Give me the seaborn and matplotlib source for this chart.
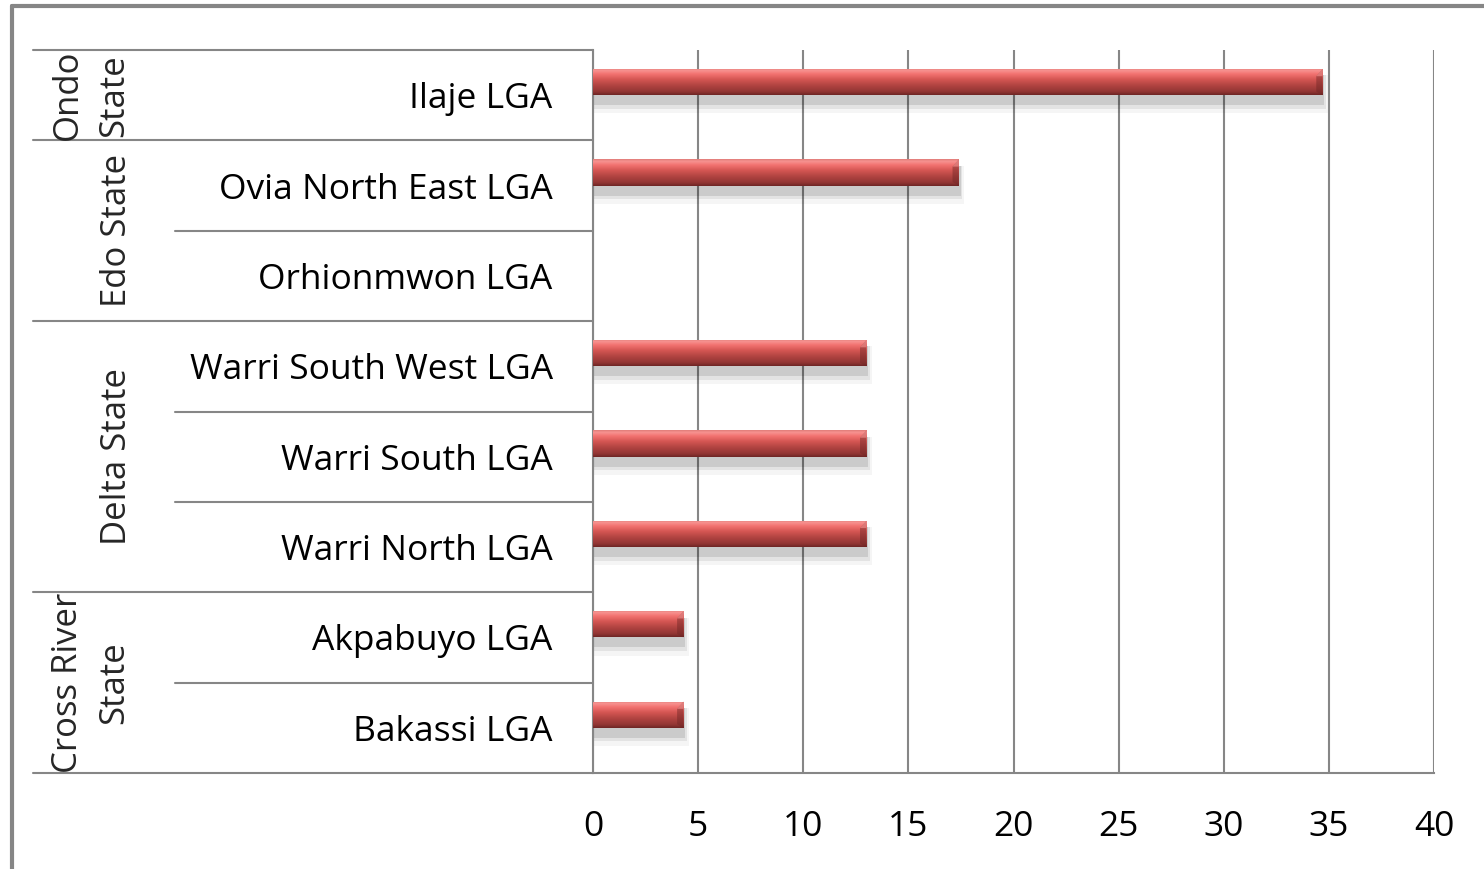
import matplotlib
matplotlib.use('Agg')
import matplotlib.pyplot as plt
import numpy as np
import pandas as pd
import seaborn as sns
from matplotlib.colors import LinearSegmentedColormap
from matplotlib.lines import Line2D
from matplotlib.patches import Rectangle, Polygon
import matplotlib.transforms as mtransforms

# 数据
lgas = ['Ilaje LGA', 'Ovia North East LGA', 'Orhionmwon LGA', 'Warri South West LGA',
        'Warri South LGA', 'Warri North LGA', 'Akpabuyo LGA', 'Bakassi LGA']
values = [34.7, 17.4, 0, 13.0, 13.0, 13.0, 4.3, 4.3]
states = ['Ondo\nState', 'Edo State', 'Delta State', 'Cross River\nState']
state_sizes = [1, 2, 3, 2]
xticks = [0, 5, 10, 15, 20, 25, 30, 35, 40]

sns.set_style("white")
plt.rcParams['font.family'] = ['Open Sans', 'DejaVu Sans']

W, H = 1484, 869
fig = plt.figure(figsize=(W / 100, H / 100), dpi=100)
ax = fig.add_axes([593 / W, 1 - 773 / H, (1434 - 593) / W, (773 - 50) / H])

df = pd.DataFrame({'lga': lgas, 'value': values})
sns.barplot(data=df, x='value', y='lga', orient='h', color='#C0504D',
            width=0.29, ax=ax, zorder=3, linewidth=0)

grey = '#868686'
# 渐变效果
cmap = LinearSegmentedColormap.from_list('bar', [
    (0.0, '#E07C79'), (0.08, '#F79391'), (0.22, '#F27270'), (0.42, '#D45653'),
    (0.65, '#B04341'), (0.88, '#923634'), (1.0, '#6E2625')])
grad = np.linspace(0, 1, 100).reshape(-1, 1)
shift = -0.145
bev = 0.3
for p in ax.patches:
    p.set_y(p.get_y() + shift)
    p.set_linewidth(0)
    x0, y0, w, h = p.get_x(), p.get_y(), p.get_width(), p.get_height()
    if w <= 0:
        p.set_visible(False)
        continue
    # 阴影
    for k, a in zip([0.04, 0.08, 0.13], [0.10, 0.07, 0.04]):
        ax.add_patch(Rectangle((x0, y0 + 0.07), w + k * 2, h + k,
                               facecolor='black', alpha=a, edgecolor='none', zorder=2))
    im = ax.imshow(grad, cmap=cmap, extent=(x0, x0 + w, y0 + h, y0),
                   aspect='auto', zorder=4, interpolation='bilinear')
    im.set_clip_path(p)
    # 末端斜面
    ax.add_patch(Polygon([(x0 + w - bev, y0 + 0.08), (x0 + w, y0), (x0 + w, y0 + h),
                          (x0 + w - bev, y0 + h - 0.04)],
                         facecolor='#6E2625', alpha=0.45, edgecolor='none', zorder=5))
    ax.add_patch(Polygon([(x0 + w - bev, y0 + 0.08), (x0 + w, y0), (x0 + w, y0 + 0.08)],
                         facecolor='#F79391', alpha=0.6, edgecolor='none', zorder=5))

ax.set_xlim(0, 40)
ax.set_ylim(len(lgas) - 0.5, -0.5)
ax.set_xticks(xticks)
ax.set_xticklabels([str(t) for t in xticks])
ax.set_xlabel('')
ax.set_ylabel('')
ax.xaxis.grid(True, color=grey, linewidth=1.5)
ax.set_axisbelow(True)
for s in ['top', 'right']:
    ax.spines[s].set_visible(False)
for s in ['left', 'bottom']:
    ax.spines[s].set_color(grey)
    ax.spines[s].set_linewidth(1.5)
ax.tick_params(axis='x', length=8.5, width=1.5, color=grey, pad=18,
               labelsize=25.5, labelcolor='black', direction='out')
ax.tick_params(axis='y', length=0, pad=29, labelsize=25.5, labelcolor='black')

# 分类分隔线
trans = mtransforms.blended_transform_factory(ax.transAxes, ax.transData)
bounds = np.cumsum([0] + state_sizes) - 0.5
for b in np.arange(-0.5, len(lgas)):
    xs = -0.666 if b in bounds else -0.497
    ax.add_line(Line2D([xs, 0], [b, b], transform=trans, color=grey,
                       linewidth=1.5, clip_on=False))

# 州标签
label_x = [-0.597, -0.566, -0.566, -0.597]
for st, n, start, lx in zip(states, state_sizes, bounds[:-1], label_x):
    ax.text(lx, start + n / 2, st, transform=trans, rotation=90, ha='center',
            va='center', fontsize=25, linespacing=1.45, clip_on=False)

# 外框
fig.add_artist(Line2D([12 / W, 12 / W], [0, 1 - 6 / H], color=grey, linewidth=3))
fig.add_artist(Line2D([12 / W, 1], [1 - 6 / H, 1 - 6 / H], color=grey, linewidth=3))

fig.savefig('out.png', dpi=100, facecolor='white')
